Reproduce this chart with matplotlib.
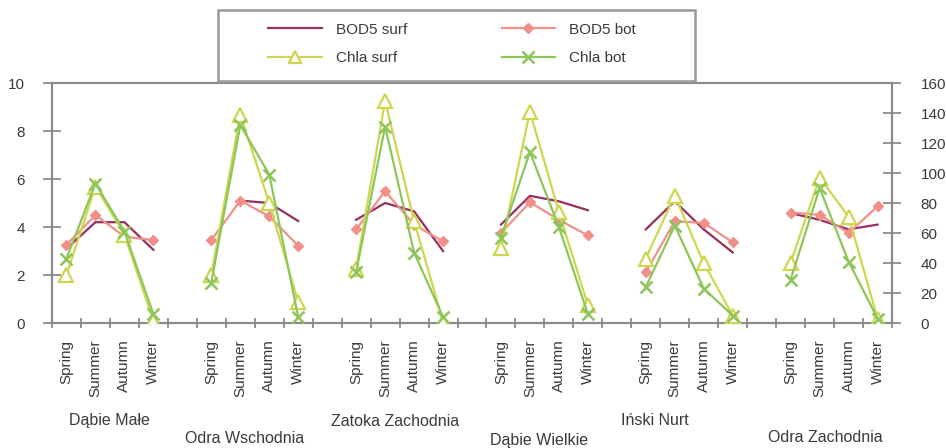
import numpy as np
import matplotlib
matplotlib.use("Agg")
import matplotlib.pyplot as plt
from matplotlib.lines import Line2D
from matplotlib.patches import Rectangle

plt.rcParams['font.family'] = ['Liberation Sans', 'DejaVu Sans']

sites = ["Dąbie Małe", "Odra Wschodnia", "Zatoka Zachodnia", "Dąbie Wielkie", "Iński Nurt", "Odra Zachodnia"]
seasons = ["Spring", "Summer", "Autumn", "Winter"]

nan = np.nan
bod5_surf = [3.1, 4.2, 4.2, 3.05,
             nan, 5.1, 5.0, 4.25,
             4.3, 5.0, 4.65, 3.0,
             4.1, 5.3, 5.07, 4.7,
             3.9, 5.07, 3.9, 2.94,
             4.58, 4.3, 3.9, 4.1]
bod5_bot = [3.26, 4.5, 3.6, 3.45,
            3.45, 5.1, 4.44, 3.22,
            3.9, 5.49, 4.1, 3.4,
            3.75, 5.03, 4.3, 3.65,
            2.11, 4.24, 4.17, 3.36,
            4.6, 4.51, 3.75, 4.86]
chla_surf = [32, 91, 59, 1.5,
             32, 139, 80, 14,
             36, 148, 68, 1,
             50, 141, 74, 12,
             43, 85, 40, 5,
             40, 97, 71, 3]
chla_bot = [43, 93, 61, 6,
            27, 132, 99, 4,
            34, 131, 47, 4,
            57, 114, 64, 6,
            24, 65, 23, 5,
            29, 90, 41, 3]

# label layout (index offsets and vertical stagger)
label_offsets = [0.0, -0.35, -0.14, -0.2, -1.2, -0.3]
label_y = [-0.405, -0.48, -0.41, -0.49, -0.405, -0.475]

C_BS = '#95305f'
C_BB = '#f09088'
C_CS = '#cfd64e'
C_CB = '#8cc65a'
GRID = '#8a8a8a'
TXT = '#3a3a3a'

ng, ns = len(sites), len(seasons)
step = ns + 1
ncat = ng * step - 1

def expand(vals):
    arr = np.full(ncat, np.nan)
    for g in range(ng):
        for s in range(ns):
            arr[g * step + s] = vals[g * ns + s]
    return arr

x = np.arange(ncat)

fig = plt.figure(figsize=(9.46, 4.48), dpi=100)
W, H = 946, 448
L, R, T, B = 52, 892, 83, 323
ax = fig.add_axes([L / W, 1 - B / H, (R - L) / W, (B - T) / H])
ax2 = ax.twinx()

lw = 1.6
ax.plot(x, expand(bod5_surf), color=C_BS, lw=lw, zorder=3)
ax.plot(x, expand(bod5_bot), color=C_BB, lw=lw, marker='D', ms=5, zorder=3)
ax2.plot(x, expand(chla_surf), color=C_CS, lw=lw, marker='^', ms=10,
         markerfacecolor='white', markeredgecolor=C_CS, markeredgewidth=1.6, zorder=3)
ax2.plot(x, expand(chla_bot), color=C_CB, lw=lw, marker='x', ms=9,
         markeredgewidth=1.8, zorder=4)

ax.set_xlim(-0.5, ncat - 0.5)
ax.set_ylim(0, 10)
ax2.set_ylim(0, 160)
ax.set_yticks(np.arange(0, 11, 2))
ax2.set_yticks(np.arange(0, 161, 20))

ticks = [g * step + s for g in range(ng) for s in range(ns)]
ax.set_xticks(ticks)
ax.set_xticklabels(seasons * ng, rotation=90, fontsize=11, color=TXT)
ax.set_xticks(np.arange(-0.5, ncat, 1.0), minor=True)
ax.tick_params(axis='x', which='major', length=0, pad=12)
ax.tick_params(axis='x', which='minor', length=7, direction='inout', color=GRID, width=1.3)
ax.tick_params(axis='y', length=13, direction='inout', color=GRID, width=1.3,
               labelsize=11, labelcolor=TXT, pad=13)
ax2.tick_params(axis='y', length=13, direction='inout', color=GRID, width=1.3,
                labelsize=11, labelcolor=TXT, pad=14)

for a in (ax, ax2):
    for sp in a.spines.values():
        sp.set_color(GRID)
        sp.set_linewidth(1.5)

for g, name in enumerate(sites):
    cx = g * step + (ns - 1) / 2 + label_offsets[g]
    ax.text(cx, label_y[g], name, transform=ax.get_xaxis_transform(),
            ha='center', va='center', fontsize=11.5, color=TXT, clip_on=False)

# legend
handles = [
    Line2D([], [], color=C_BS, lw=lw),
    Line2D([], [], color=C_BB, lw=lw, marker='D', ms=5),
    Line2D([], [], color=C_CS, lw=lw, marker='^', ms=9, markerfacecolor='white',
           markeredgecolor=C_CS, markeredgewidth=1.6),
    Line2D([], [], color=C_CB, lw=lw, marker='x', ms=8, markeredgewidth=1.8),
]
labels = ["BOD5 surf", "BOD5 bot", "Chla surf", "Chla bot"]
order = [0, 2, 1, 3]
leg = fig.legend([handles[i] for i in order], [labels[i] for i in order],
                 ncol=2, frameon=False, loc='center',
                 bbox_to_anchor=(452 / W, 1 - 44 / H),
                 fontsize=11, handlelength=3.5, handletextpad=0.9,
                 columnspacing=6.2, labelspacing=0.95)
for t in leg.get_texts():
    t.set_color(TXT)
fig.add_artist(Rectangle((218 / W, 1 - 81 / H), (695 - 218) / W, (81 - 10) / H,
                         transform=fig.transFigure, fill=False,
                         edgecolor='#9a9a9a', lw=1.8, zorder=5))

fig.savefig("out.png", dpi=100)
